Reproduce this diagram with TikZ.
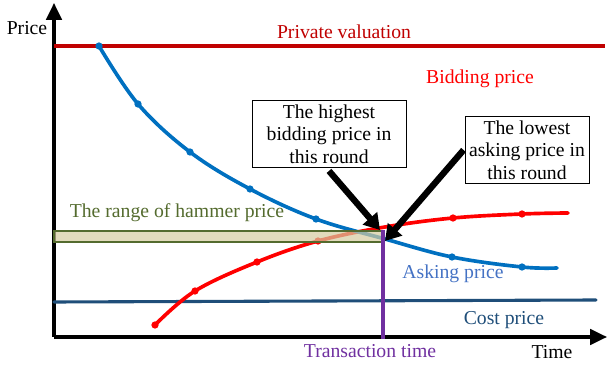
\documentclass[tikz,border=0pt]{standalone}
\usepackage{fontspec}
\setmainfont{Liberation Serif}
\usetikzlibrary{arrows.meta}
\definecolor{valred}{RGB}{192,0,0}
\definecolor{askblue}{RGB}{0,112,192}
\definecolor{asktext}{RGB}{68,114,196}
\definecolor{bidred}{RGB}{255,0,0}
\definecolor{costblue}{RGB}{31,78,121}
\definecolor{hamgreen}{RGB}{84,107,46}
\definecolor{hamfill}{RGB}{214,204,160}
\definecolor{transpurple}{RGB}{112,48,160}
\tikzset{
  lbl/.style={font=\fontsize{14}{16}\selectfont, inner sep=1pt},
  notebox/.style={draw, fill=white, font=\fontsize{14}{16}\selectfont, align=center, inner sep=3pt, minimum width=3.85cm},
  bigarrow/.style={line width=4.5pt, -{Triangle[length=11pt,width=13pt]}},
  dot/.style={radius=2.6pt}
}
\begin{document}
\begin{tikzpicture}[x=0.025cm,y=-0.025cm]
  \useasboundingbox (0,0) rectangle (608,367);
  % axes
  \coordinate (O) at (54,337);
  \coordinate (ytop) at (54,3);
  \coordinate (xend) at (607,337);
  \draw[line width=2.2pt, -{Triangle[length=12pt,width=11pt]}] (O) -- (ytop);
  \draw[line width=2.2pt, -{Triangle[length=12pt,width=11pt]}] (O) -- (xend);
  \node[lbl, anchor=center] (price) at (27,28) {Price};
  \node[lbl, anchor=center] (time) at (552,352) {Time};
  % private valuation
  \coordinate (pv1) at (54,46);
  \coordinate (pv2) at (605,46);
  \draw[valred, line width=2.4pt] (pv1) -- (pv2);
  \node[lbl, text=valred] (pvlabel) at (344,32) {Private valuation};
  % cost price
  \coordinate (cp1) at (54,302);
  \coordinate (cp2) at (596,300);
  \draw[costblue, line width=2.2pt, line cap=round] (cp1) -- (cp2);
  \node[lbl, text=costblue] (cplabel) at (504,320) {Cost price};
  % bidding curve
  \draw[bidred, line width=2.6pt, line cap=round] plot[smooth, tension=0.6] coordinates
    {(155,325) (195,291) (257,262) (318,241) (385,227) (453,218) (522,214) (568,213)};
  \foreach \p in {(155,325),(195,291),(257,262),(318,241),(453,218),(522,214)}
    \fill[bidred] \p circle[dot];
  \node[lbl, text=bidred] (bidlabel) at (480,79) {Bidding price};
  % asking curve
  \draw[askblue, line width=2.6pt, line cap=round] plot[smooth, tension=0.6] coordinates
    {(99,46) (138,104) (190,152) (250,189) (316,219) (385,239) (452,257) (522,267) (557,268)};
  \foreach \p in {(99,46),(138,104),(190,152),(250,189),(316,219),(452,257),(522,267)}
    \fill[askblue] \p circle[dot];
  \node[lbl, text=asktext] (asklabel) at (453,274) {Asking price};
  % hammer price range
  \fill[hamfill, fill opacity=0.7] (54,231) rectangle (383,242);
  \draw[hamgreen, line width=1.3pt] (54,231) rectangle (383,242);
  \node[lbl, text=hamgreen] (hamlabel) at (177,213) {The range of hammer price};
  % transaction time
  \coordinate (deal) at (383,230);
  \coordinate (dealfoot) at (383,339);
  \draw[transpurple, line width=2.6pt] (deal) -- (dealfoot);
  \node[lbl, text=transpurple] (translabel) at (370,351) {Transaction time};
  % notes
  \node[notebox] (highbid) at (329,134) {The highest\\bidding price in\\this round};
  \node[notebox, minimum width=3.1cm] (lowask) at (527,150) {The lowest\\asking price in\\this round};
  \coordinate (hightip) at (380,230);
  \coordinate (lowtip) at (385,241);
  \draw[bigarrow] (highbid.south) ++(0,3) -- (hightip);
  \draw[bigarrow] (lowask.west) ++(-1,0) -- (lowtip);
\end{tikzpicture}
\end{document}
